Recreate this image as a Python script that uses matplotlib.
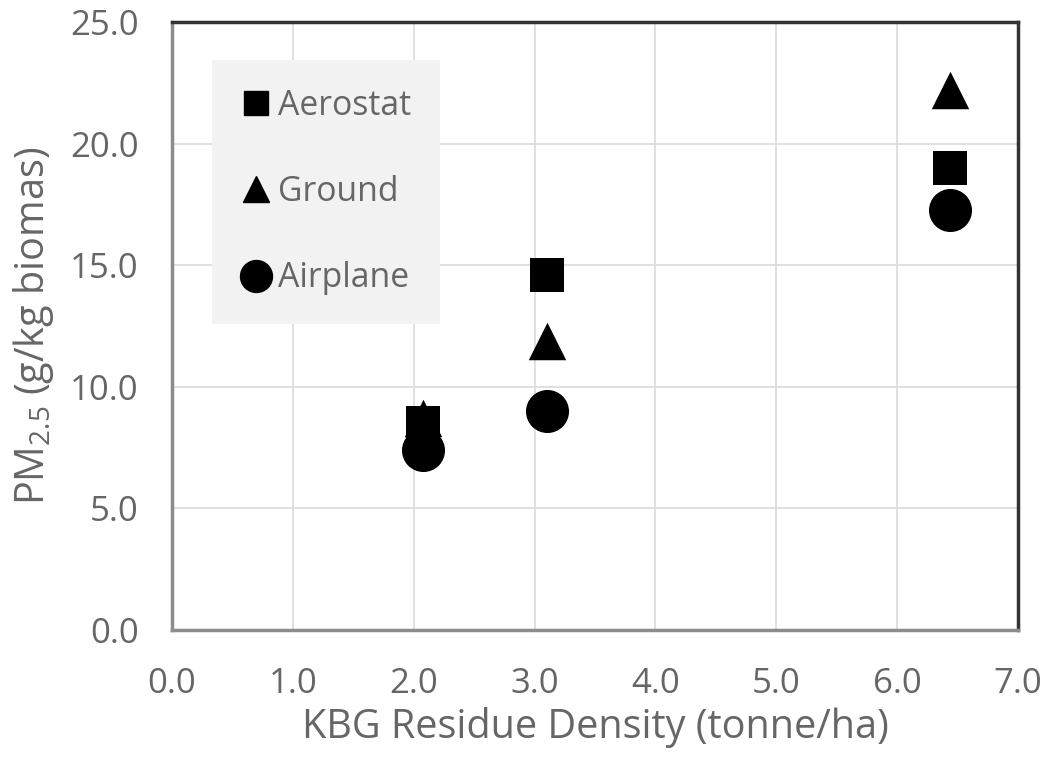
import matplotlib
matplotlib.use("Agg")
import matplotlib.pyplot as plt
from matplotlib.lines import Line2D

density = [2.08, 3.10, 6.44]
aerostat = [8.5, 14.6, 19.0]
ground = [8.7, 11.9, 22.2]
airplane = [7.4, 9.0, 17.25]
x_ticks = [0, 1, 2, 3, 4, 5, 6, 7]
y_ticks = [0, 5, 10, 15, 20, 25]

plt.rcParams['font.family'] = ['Open Sans', 'DejaVu Sans']
plt.rcParams['mathtext.default'] = 'regular'

fig = plt.figure(figsize=(10.5, 7.57), dpi=100)
ax = fig.add_axes([0.1638, 0.1678, 0.8057, 0.8031])

txt = '#666666'
ax.scatter(density, ground, marker='^', s=27**2, color='black', zorder=3, linewidths=0)
ax.scatter(density, aerostat, marker='s', s=25**2, color='black', zorder=4, linewidths=0)
ax.scatter(density, airplane, marker='o', s=31**2, color='black', zorder=5, linewidths=0)

ax.set_xlim(0, 7)
ax.set_ylim(0, 25)
ax.set_xticks(x_ticks)
ax.set_yticks(y_ticks)
ax.set_xticklabels([f"{v:.1f}" for v in x_ticks])
ax.set_yticklabels([f"{v:.1f}" for v in y_ticks])
ax.tick_params(axis='both', length=0, labelsize=25, colors=txt)
ax.tick_params(axis='x', pad=27)
ax.tick_params(axis='y', pad=24)
ax.grid(True, color='#dddddd', linewidth=1.3, zorder=0)
ax.set_axisbelow(True)

for s in ['left', 'bottom']:
    ax.spines[s].set_color('#8c8c8c')
    ax.spines[s].set_linewidth(2.5)
for s in ['top', 'right']:
    ax.spines[s].set_color('#333333')
    ax.spines[s].set_linewidth(2.5)

ax.set_xlabel('KBG Residue Density (tonne/ha)', fontsize=28.5, color=txt, labelpad=4)
ax.set_ylabel('PM$_{2.5}$ (g/kg biomas)', fontsize=28.5, color=txt, labelpad=10)

handles = [
    Line2D([], [], marker='s', color='black', linestyle='none', markersize=17),
    Line2D([], [], marker='^', color='black', linestyle='none', markersize=19),
    Line2D([], [], marker='o', color='black', linestyle='none', markersize=23),
]
leg = ax.legend(handles, ['Aerostat', 'Ground', 'Airplane'],
                loc='upper left', bbox_to_anchor=(0.0473, 0.9375),
                frameon=True, facecolor='#f2f2f2', edgecolor='none', framealpha=1,
                fontsize=24.3, labelspacing=1.55, handlelength=0.9, handletextpad=0.2,
                borderpad=0.85, borderaxespad=0, fancybox=False)
for t in leg.get_texts():
    t.set_color(txt)
leg.set_zorder(2)

fig.savefig('out.png', dpi=100)
